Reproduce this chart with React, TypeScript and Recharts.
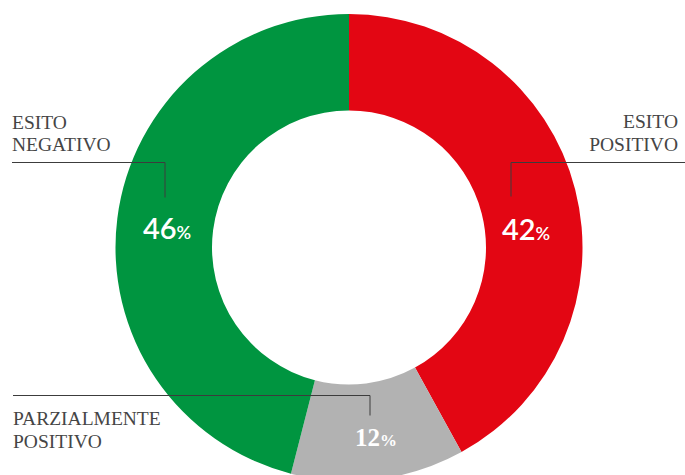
import { PieChart, Pie, Cell } from 'recharts'

const categories = ['ESITO POSITIVO', 'PARZIALMENTE POSITIVO', 'ESITO NEGATIVO']
const values = [42, 12, 46]
const colors = ['#E30613', '#B2B2B2', '#009540']
const labelLines = [
  ['ESITO', 'POSITIVO'],
  ['PARZIALMENTE', 'POSITIVO'],
  ['ESITO', 'NEGATIVO'],
]

const data = categories.map((name, i) => ({ name, value: values[i] }))

// label layout, offsets from the pie centre
const layout = [
  {
    pct: { dx: 177, dy: -8, size: 29, small: 18, font: 'Lato', weight: 600 },
    line: { x1: 162, x2: 340, y: -85, yEnd: -51, vx: 162 },
    text: { x: 329, anchor: 'end', dy: [-120, -97] },
  },
  {
    pct: { dx: 27, dy: 198, size: 25, small: 17, font: '"Liberation Serif", serif', weight: 700 },
    line: { x1: -336, x2: 21, y: 148, yEnd: 168, vx: 21 },
    text: { x: -336, anchor: 'start', dy: [177, 200] },
  },
  {
    pct: { dx: -182, dy: -9, size: 29, small: 18, font: 'Lato', weight: 600 },
    line: { x1: -337, x2: -184, y: -85, yEnd: -50, vx: -184 },
    text: { x: -337, anchor: 'start', dy: [-119, -97] },
  },
]

const renderLabel = (props: any) => {
  const { cx, cy, index, value } = props
  const l = layout[index]
  return (
    <g key={`lbl-${index}`}>
      <line
        x1={cx + l.line.x1}
        x2={cx + l.line.x2}
        y1={cy + l.line.y}
        y2={cy + l.line.y}
        stroke="#3c3c3c"
        strokeWidth={1}
      />
      <line
        x1={cx + l.line.vx}
        x2={cx + l.line.vx}
        y1={cy + l.line.y}
        y2={cy + l.line.yEnd}
        stroke="#3c3c3c"
        strokeWidth={1}
      />
      {labelLines[index].map((t, j) => (
        <text
          key={j}
          x={cx + l.text.x}
          y={cy + l.text.dy[j]}
          textAnchor={l.text.anchor as any}
          fontFamily='"Liberation Serif", serif'
          fontSize={19.5}
          fill="#454545"
        >
          {t}
        </text>
      ))}
      <text
        x={cx + l.pct.dx}
        y={cy + l.pct.dy}
        textAnchor="middle"
        fontFamily={l.pct.font}
        fontWeight={l.pct.weight}
        fontSize={l.pct.size}
        fill="#ffffff"
      >
        {value}
        <tspan fontSize={l.pct.small}>%</tspan>
      </text>
    </g>
  )
}

export default function App() {
  return (
    <div style={{ position: 'absolute', left: 0, top: 0, background: '#fff' }}>
      <PieChart width={685} height={475} margin={{ top: 0, right: 0, bottom: 0, left: 0 }}>
        <Pie
          data={data}
          dataKey="value"
          nameKey="name"
          cx={349}
          cy={247.5}
          innerRadius={137}
          outerRadius={233.5}
          startAngle={90}
          endAngle={-270}
          stroke="none"
          label={renderLabel}
          labelLine={false}
          isAnimationActive={false}
        >
          {data.map((d, i) => (
            <Cell key={d.name} fill={colors[i]} />
          ))}
        </Pie>
      </PieChart>
    </div>
  )
}
